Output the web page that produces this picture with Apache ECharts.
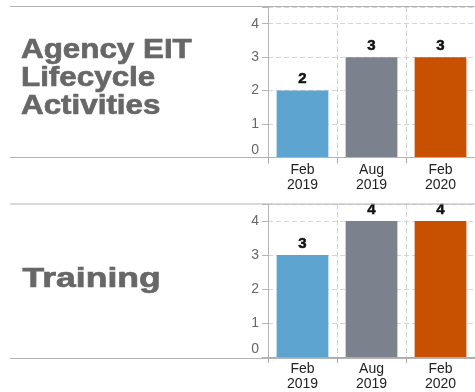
<!DOCTYPE html>
<html>
<head>
<meta charset="utf-8">
<script src="https://cdn.jsdelivr.net/npm/echarts@6/dist/echarts.min.js"></script>
<style>
  html, body { margin: 0; padding: 0; background: #fff; }
  #chart { width: 475px; height: 392px; }
</style>
</head>
<body>
<div id="chart"></div>
<script>
// Reporting periods shown on each panel's x axis
const periods = ['Feb\n2019', 'Aug\n2019', 'Feb\n2020'];
// Counts per period
const lifecycleActivities = [2, 3, 3];
const trainingCounts = [3, 4, 4];
// Row headings of the two panels
const panelTitles = ['Agency EIT\nLifecycle\nActivities', 'Training'];
// Y-axis tick labels
const yTicks = [0, 1, 2, 3, 4];

const palette = ['#5ea4d0', '#7c828d', '#c75101'];
const FONT = '"Liberation Sans", Arial, Helvetica, sans-serif';

const panels = [
  { values: lifecycleActivities, top: 7, height: 150.5 },
  { values: trainingCounts, top: 204, height: 154.5 }
];

const grids = panels.map(p => ({ left: 268, right: -7, top: p.top, height: p.height }));

const xAxes = panels.map((p, i) => ({
  type: 'category',
  gridIndex: i,
  data: periods,
  axisLine: { show: true, lineStyle: { color: '#aaa', width: 1 } },
  axisTick: { show: true, length: 6, lineStyle: { color: '#aaa' } },
  axisLabel: { color: '#222', fontFamily: FONT, fontSize: 14, lineHeight: 15, margin: 5 },
  splitLine: { show: true, lineStyle: { color: '#cfcfcf', type: [5, 3] } }
}));

const yAxes = panels.map((p, i) => ({
  type: 'value',
  gridIndex: i,
  min: 0,
  max: 4.5,
  interval: 1,
  axisLine: { show: true, lineStyle: { color: '#b5b5b5', width: 1 } },
  axisTick: { show: true, length: 6, lineStyle: { color: '#b5b5b5' } },
  splitLine: { show: true, lineStyle: { color: '#d6d6d6', type: [5, 3] } },
  axisLabel: {
    margin: 9,
    color: '#666',
    fontFamily: FONT,
    fontSize: 14,
    formatter: v => {
      if (yTicks.indexOf(v) < 0) return '';
      return v === 0 ? '{zero|0}' : String(v);
    },
    rich: {
      zero: { color: '#666', fontFamily: FONT, fontSize: 14, padding: [0, 0, 15, 0] }
    }
  }
}));

const series = panels.map((p, i) => ({
  type: 'bar',
  xAxisIndex: i,
  yAxisIndex: i,
  barWidth: '75%',
  data: p.values.map((v, k) => ({ value: v, itemStyle: { color: palette[k] } })),
  label: {
    show: true,
    position: 'top',
    distance: 4,
    color: '#111',
    fontFamily: FONT,
    fontWeight: 'bold',
    fontSize: 15,
    textBorderColor: '#111',
    textBorderWidth: 0.5
  },
  silent: true
}));

// Table rules framing each panel and its heading
const rule = (y) => ({
  type: 'line',
  shape: { x1: 10, y1: y, x2: 475, y2: y },
  style: { stroke: '#b3b3b3', lineWidth: 1 },
  z: 5
});

const heading = (text, x, y, sx) => ({
  type: 'text', x: x, y: y, scaleX: sx,
  style: {
    text: text, fill: '#676767',
    stroke: '#676767', lineWidth: 0.7,
    font: 'bold 28px ' + FONT, lineHeight: 28,
    textAlign: 'left', textVerticalAlign: 'top'
  }
});

const graphic = [
  rule(6.5), rule(157.5), rule(204), rule(358.5),
  heading(panelTitles[0], 21, 36, 1.12),
  heading(panelTitles[1], 22.5, 265.3, 1.27)
];

const chart = echarts.init(document.getElementById('chart'), null, { renderer: 'canvas' });
chart.setOption({
  animation: false,
  backgroundColor: '#fff',
  grid: grids,
  xAxis: xAxes,
  yAxis: yAxes,
  series: series,
  graphic: graphic
});
</script>
</body>
</html>
